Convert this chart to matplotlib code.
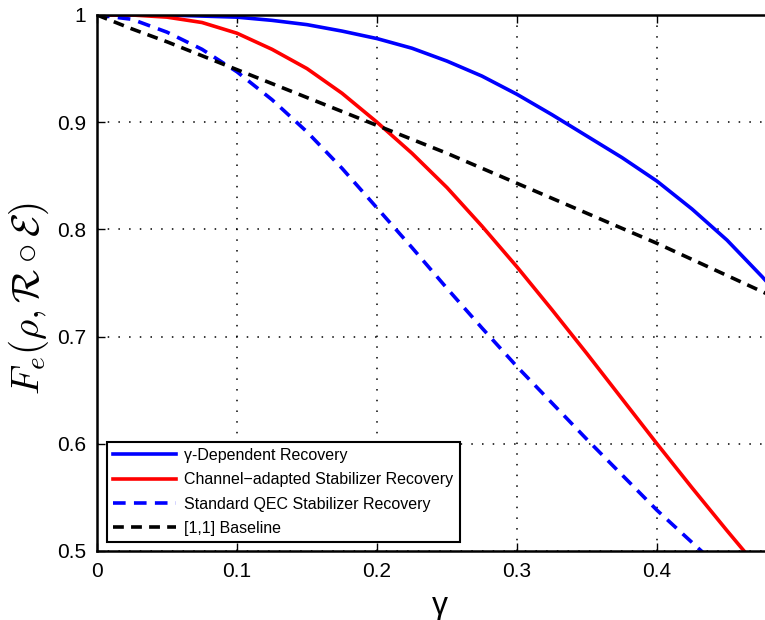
import numpy as np
import matplotlib
matplotlib.use('Agg')
from matplotlib import pyplot as plt

plt.rcParams['font.family'] = ['Liberation Sans', 'DejaVu Sans']
plt.rcParams['mathtext.fontset'] = 'cm'

# values
gamma = [0, 0.025, 0.05, 0.075, 0.1, 0.125, 0.15, 0.175, 0.2, 0.225, 0.25,
         0.275, 0.3, 0.325, 0.35, 0.375, 0.4, 0.425, 0.45, 0.475, 0.5]
gamma_dep = [1.0, 1.0, 1.0, 0.999, 0.998, 0.995, 0.991, 0.985, 0.978, 0.969, 0.957,
             0.943, 0.926, 0.907, 0.887, 0.867, 0.845, 0.819, 0.790, 0.756, 0.720]
chan_adapted = [1.0, 1.0, 0.998, 0.993, 0.983, 0.968, 0.950, 0.927, 0.900, 0.871, 0.839,
                0.803, 0.765, 0.725, 0.684, 0.642, 0.600, 0.559, 0.519, 0.480, 0.441]
standard_qec = [1.0, 0.996, 0.984, 0.968, 0.947, 0.921, 0.891, 0.857, 0.820, 0.783, 0.745,
                0.708, 0.672, 0.638, 0.604, 0.571, 0.538, 0.508, 0.478, 0.450, 0.422]
baseline = [1.0, 0.987, 0.975, 0.962, 0.949, 0.936, 0.923, 0.910, 0.897, 0.884, 0.871,
            0.857, 0.843, 0.829, 0.815, 0.801, 0.787, 0.772, 0.757, 0.742, 0.727]

labels = ['γ-Dependent Recovery', 'Channel\u2212adapted Stabilizer Recovery',
          'Standard QEC Stabilizer Recovery', '[1,1] Baseline']

fig = plt.figure(figsize=(7.65, 6.2), dpi=100)
# axes runs past the right edge of the picture, like the cropped original
ax = fig.add_axes([97/765, 69/620, 700/765, 536/620])

lw = 2.6
ax.plot(gamma, gamma_dep, color='#0000ff', lw=lw, label=labels[0])
ax.plot(gamma, chan_adapted, color='#ff0000', lw=lw, label=labels[1])
ax.plot(gamma, standard_qec, color='#0000ff', lw=lw, dashes=(3.5, 2.3), label=labels[2])
ax.plot(gamma, baseline, color='black', lw=lw, dashes=(3.0, 2.0), label=labels[3])

ax.set_xlim(0, 0.5)
ax.set_ylim(0.5, 1)
ax.set_xticks([0, 0.1, 0.2, 0.3, 0.4])
ax.set_xticklabels(['0', '0.1', '0.2', '0.3', '0.4'])
ax.set_yticks([0.5, 0.6, 0.7, 0.8, 0.9, 1.0])
ax.set_yticklabels(['0.5', '0.6', '0.7', '0.8', '0.9', '1'])
ax.tick_params(direction='in', length=6, width=1, labelsize=15, top=True, right=True, pad=8)

ax.grid(True, color='black', linestyle=(0, (1, 6)), lw=1.1)
for s in ax.spines.values():
    s.set_linewidth(1.8)

ax.set_xlabel('γ', fontsize=23)
ax.xaxis.set_label_coords(0.49, -0.075)
ax.set_ylabel(r'$F_e(\rho,\mathcal{R}\circ\mathcal{E})$', fontsize=28)
ax.yaxis.set_label_coords(-0.066, 0.47)

leg = ax.legend(loc='lower left', bbox_to_anchor=(0.0143, 0.0165), fontsize=11.5,
                handlelength=3.9, fancybox=False, framealpha=1, edgecolor='black',
                borderpad=0.4, labelspacing=0.58, handletextpad=0.55, borderaxespad=0)
leg.get_frame().set_linewidth(1.5)

plt.savefig('out.png', dpi=100)
